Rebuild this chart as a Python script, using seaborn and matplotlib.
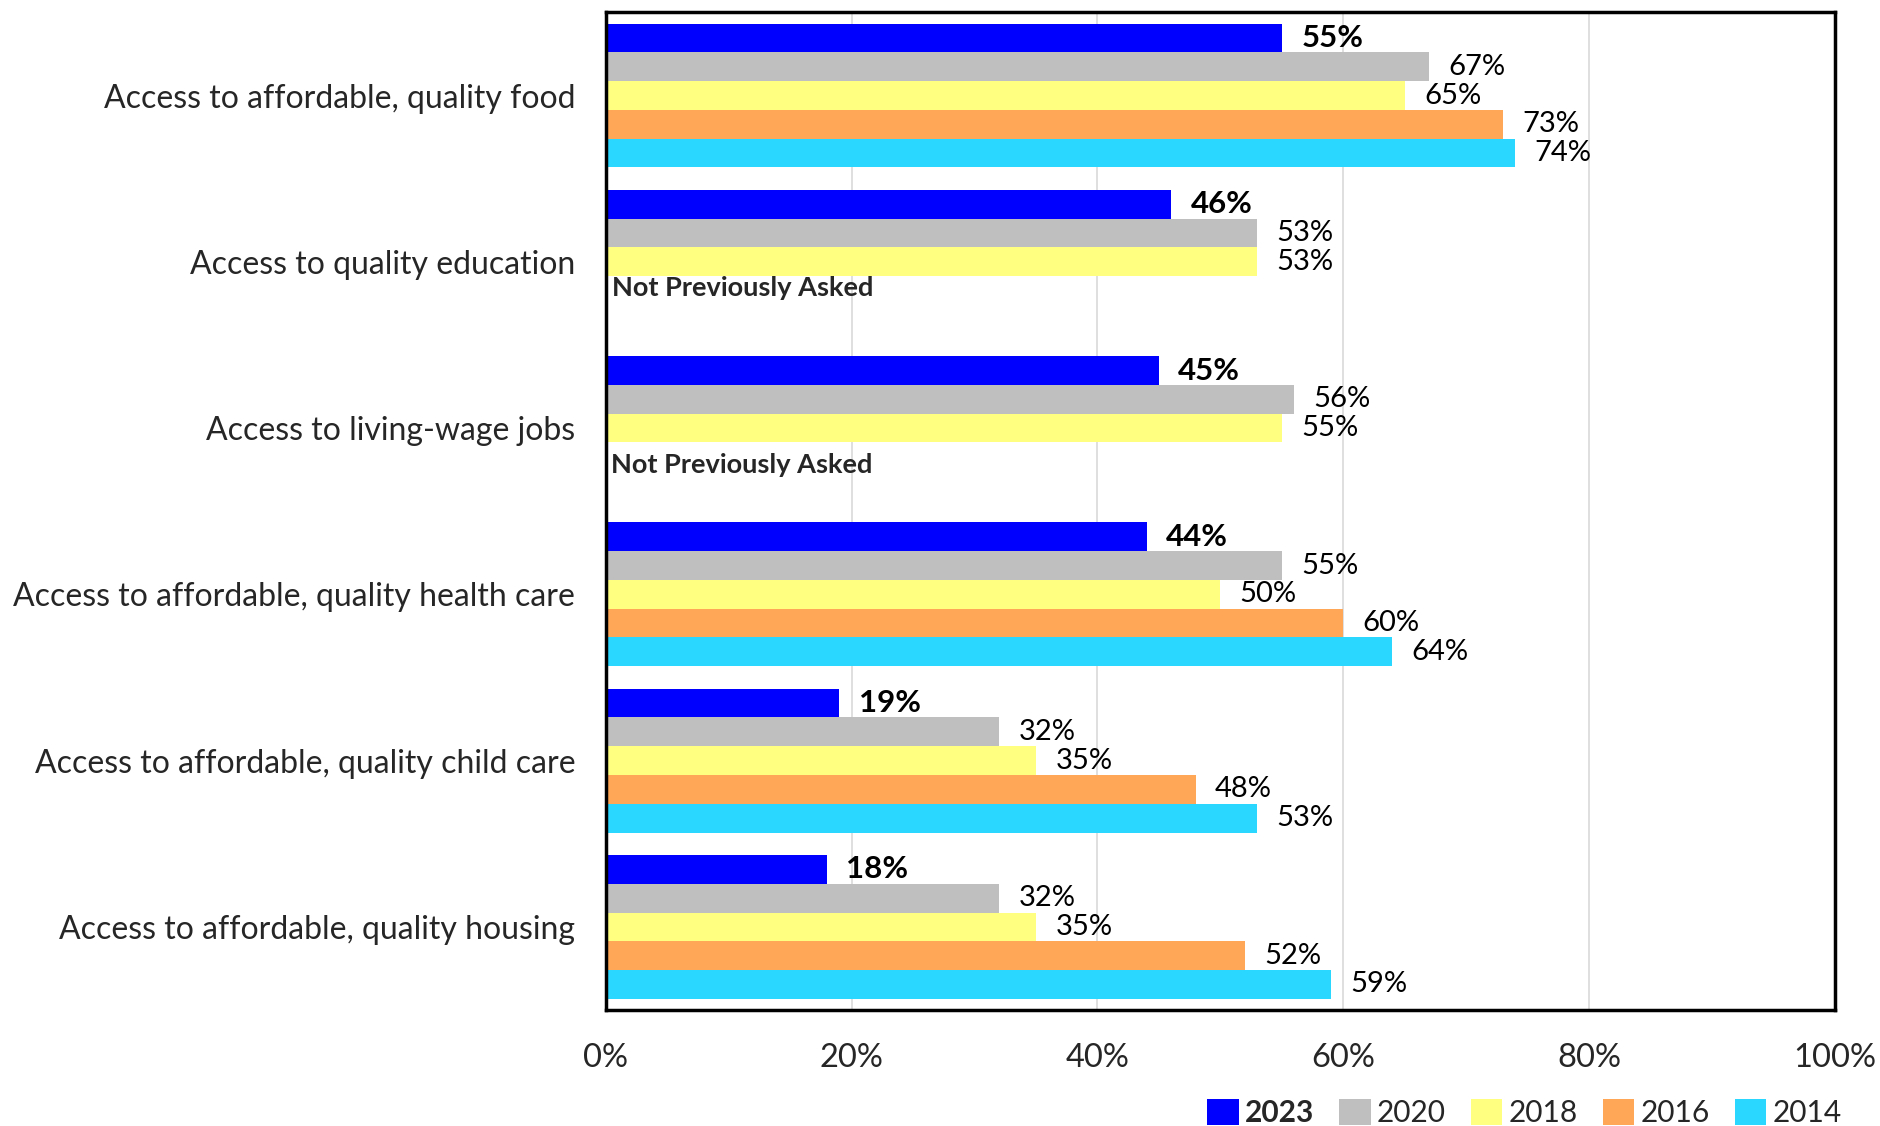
import numpy as np
import pandas as pd
import matplotlib
matplotlib.use("Agg")
import matplotlib.pyplot as plt
import seaborn as sns

categories = [
    "Access to affordable, quality food",
    "Access to quality education",
    "Access to living-wage jobs",
    "Access to affordable, quality health care",
    "Access to affordable, quality child care",
    "Access to affordable, quality housing",
]
years = ["2023", "2020", "2018", "2016", "2014"]
v2023 = [55, 46, 45, 44, 19, 18]
v2020 = [67, 53, 56, 55, 32, 32]
v2018 = [65, 53, 55, 50, 35, 35]
v2016 = [73, np.nan, np.nan, 60, 48, 52]
v2014 = [74, np.nan, np.nan, 64, 53, 59]
colors = ["#0000FF", "#BFBFBF", "#FFFF80", "#FFA757", "#29D7FF"]
note_text = "Not Previously Asked"

series = {"2023": v2023, "2020": v2020, "2018": v2018, "2016": v2016, "2014": v2014}
rows = []
for yr in years:
    for cat, val in zip(categories, series[yr]):
        rows.append({"Category": cat, "Year": yr, "Value": val})
df = pd.DataFrame(rows)

sns.set_theme(style="white")
plt.rcParams["font.family"] = ["Lato", "DejaVu Sans"]

fig = plt.figure(figsize=(18.81, 11.26), dpi=100)
ax = fig.add_axes([0.322, 0.103, 0.6535, 0.886])

sns.barplot(data=df, y="Category", x="Value", hue="Year", order=categories,
            hue_order=years, palette=colors, orient="h", width=0.865,
            saturation=1, errorbar=None, ax=ax, linewidth=0)

ax.set_xlim(0, 100)
ax.set_ylim(5.5, -0.5)
ax.set_xticks([0, 20, 40, 60, 80, 100])
ax.set_xticklabels([f"{t}%" for t in [0, 20, 40, 60, 80, 100]], fontsize=23.5)
ax.tick_params(axis="x", length=0, pad=24)
ax.tick_params(axis="y", length=0, pad=22, labelsize=23)
ax.set_xlabel("")
ax.set_ylabel("")
ax.grid(axis="x", color="#D9D9D9", linewidth=1.2)
ax.set_axisbelow(True)
for sp in ax.spines.values():
    sp.set_visible(True)
    sp.set_color("black")
    sp.set_linewidth(2.5)

for i, cont in enumerate(ax.containers):
    labels = []
    for bar in cont:
        w = bar.get_width()
        labels.append("" if np.isnan(w) or w == 0 else f"{w:.0f}%")
    ax.bar_label(cont, labels=labels, padding=14,
                 fontsize=22.5 if i == 0 else 21,
                 fontweight="bold" if i == 0 else "normal", color="black")

ax.text(0.5, 1.16, note_text, fontsize=19.5, fontweight="bold", va="center", ha="left")
ax.text(0.4, 2.22, note_text, fontsize=19.5, fontweight="bold", va="center", ha="left")

handles, labs = ax.get_legend_handles_labels()
ax.get_legend().remove()
leg = fig.legend(handles, labs, loc="center right", bbox_to_anchor=(0.979, 0.0115),
                 ncol=5, frameon=False, fontsize=21.5, handlelength=1.05,
                 handleheight=0.95, handletextpad=0.2, columnspacing=0.85,
                 borderpad=0, borderaxespad=0)
leg.get_texts()[0].set_fontweight("bold")

fig.savefig("out.png", dpi=100)
